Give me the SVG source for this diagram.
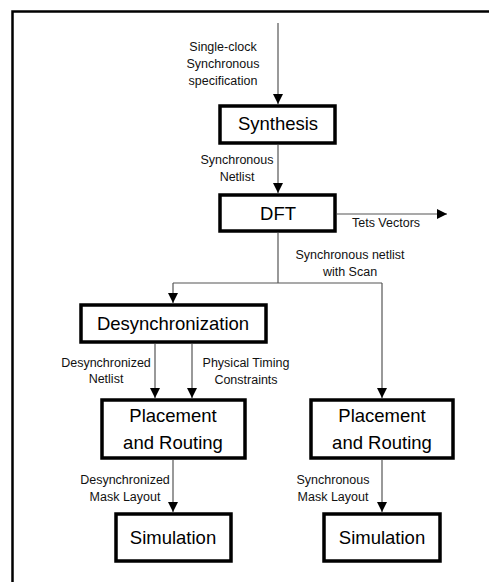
<svg xmlns="http://www.w3.org/2000/svg" width="489" height="582" viewBox="0 0 489 582">
<defs>
<marker id="ah" markerUnits="userSpaceOnUse" markerWidth="10" markerHeight="10" refX="10" refY="5" orient="auto">
<path d="M0,0 L10,5 L0,10 z" fill="#000"/>
</marker>
<style>
.box{fill:#fff;stroke:#000;stroke-width:3.5}
.t{font-family:"Liberation Sans",Arial,sans-serif;font-size:18.5px;fill:#000;text-anchor:middle}
.l{font-family:"Liberation Sans",Arial,sans-serif;font-size:12.5px;fill:#111;text-anchor:middle}
.c{fill:none;stroke:#555;stroke-width:1.2}
.a{marker-end:url(#ah)}
</style>
</defs>
<rect width="489" height="582" fill="#fff"/>
<path d="M12.5,582 V11.5 H489" fill="none" stroke="#000" stroke-width="2.5"/>
<g id="connectors">
<path class="c a" d="M278,23 V104"/>
<path class="c a" d="M278,145 V193"/>
<path class="c a" d="M337,214 H447"/>
<path class="c" d="M278,233 V283 M173,283 H382"/>
<path class="c a" d="M173,283 V303"/>
<path class="c a" d="M382,283 V398"/>
<path class="c a" d="M155,344 V398"/>
<path class="c a" d="M192,344 V398"/>
<path class="c a" d="M173,460 V512"/>
<path class="c a" d="M382,460 V512"/>
</g>
<g id="labels">
<text class="l" x="223" y="51">Single-clock</text>
<text class="l" x="223" y="68">Synchronous</text>
<text class="l" x="223" y="85">specification</text>
<text class="l" x="237" y="164">Synchronous</text>
<text class="l" x="237" y="181">Netlist</text>
<text class="l" x="386" y="227">Tets Vectors</text>
<text class="l" x="350" y="259">Synchronous netlist</text>
<text class="l" x="350" y="276">with Scan</text>
<text class="l" x="106" y="367">Desynchronized</text>
<text class="l" x="106" y="383">Netlist</text>
<text class="l" x="246" y="367">Physical Timing</text>
<text class="l" x="246" y="384">Constraints</text>
<text class="l" x="125" y="484">Desynchronized</text>
<text class="l" x="125" y="501">Mask Layout</text>
<text class="l" x="333" y="484">Synchronous</text>
<text class="l" x="333" y="501">Mask Layout</text>
</g>
<g id="synthesis">
<rect class="box" x="220" y="106" width="115" height="37"/>
<text class="t" x="278" y="130">Synthesis</text>
</g>
<g id="dft">
<rect class="box" x="220" y="195" width="115" height="36"/>
<text class="t" x="278" y="220">DFT</text>
</g>
<g id="desync">
<rect class="box" x="81" y="305" width="185" height="37"/>
<text class="t" x="173" y="330">Desynchronization</text>
</g>
<g id="pr-left">
<rect class="box" x="102" y="400" width="143" height="58"/>
<text class="t" x="173" y="422">Placement</text>
<text class="t" x="173" y="449">and Routing</text>
</g>
<g id="pr-right">
<rect class="box" x="311" y="400" width="142" height="58"/>
<text class="t" x="382" y="422">Placement</text>
<text class="t" x="382" y="449">and Routing</text>
</g>
<g id="sim-left">
<rect class="box" x="116" y="514" width="115" height="47"/>
<text class="t" x="173" y="544">Simulation</text>
</g>
<g id="sim-right">
<rect class="box" x="324" y="514" width="116" height="47"/>
<text class="t" x="382" y="544">Simulation</text>
</g>
</svg>
